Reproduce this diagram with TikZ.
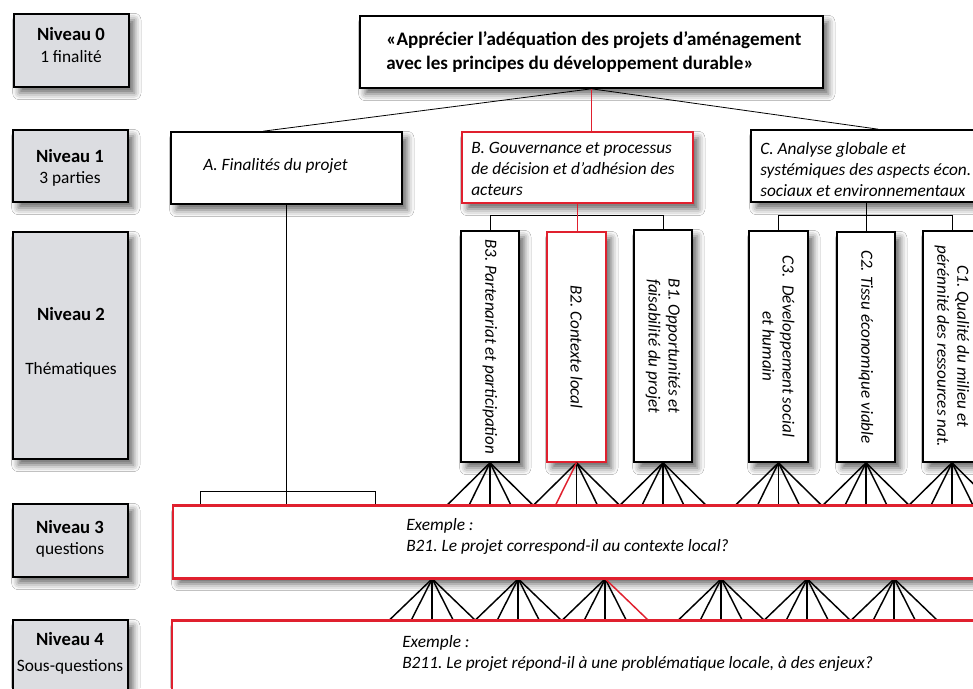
\documentclass[tikz,border=0pt]{standalone}
\usepackage{fontspec}
\setmainfont{Carlito}
\usetikzlibrary{fit,calc,shadows.blur}
\definecolor{redb}{HTML}{E0202E}
\definecolor{grayfill}{HTML}{DCDDE1}
\frenchspacing
\begin{document}
\begin{tikzpicture}[x=0.75pt,y=-0.75pt,
  shd/.style={blur shadow={shadow xshift=4pt,shadow yshift=-4.5pt,shadow blur radius=5pt,shadow opacity=60}},
  lvl/.style={draw=black,line width=1.2pt,fill=grayfill,inner sep=0pt,shd},
  wbox/.style={draw=black,line width=1.2pt,fill=white,inner sep=0pt,shd},
  rbox/.style={draw=redb,line width=1.2pt,fill=white,inner sep=0pt,shd},
  txt/.style={font=\fontsize{13}{15.75}\selectfont\itshape,align=left,inner sep=0pt},
  vtxt/.style={font=\fontsize{12.8}{15}\selectfont\itshape,align=center,rotate=-90,inner sep=0pt},
  lab/.style={font=\fontsize{13}{16.5}\selectfont,align=center,inner sep=0pt},
  labb/.style={font=\fontsize{14}{16.5}\selectfont\bfseries,align=center,inner sep=0pt},
  ttl/.style={font=\fontsize{14.3}{18}\selectfont\bfseries,align=left,inner sep=0pt},
  conn/.style={line width=0.6pt},
  fan/.style={line width=1.1pt},
]
\clip (0,0) rectangle (973,688);
\fill[white] (0,0) rectangle (973,688);

% level labels
\node[lvl,fit={(14,14)(129,87)}] (N0) {};
\node[labb] (N0a) at (71,34) {Niveau 0};
\node[lab] (N0b) at (71,57) {1 finalité};
\node[lvl,fit={(13,130)(128,202)}] (N1) {};
\node[labb] (N1a) at (70,156) {Niveau 1};
\node[lab] (N1b) at (70,179) {3 parties};
\node[lvl,fit={(13,232)(128,459)}] (N2) {};
\node[labb] (N2a) at (71,314) {Niveau 2};
\node[lab] (N2b) at (71,370) {Thématiques};
\node[lvl,fit={(13,504)(128,577)}] (N3) {};
\node[labb] (N3a) at (70,527) {Niveau 3};
\node[lab] (N3b) at (70,550) {questions};
\node[lvl,fit={(13,620)(128,720)}] (N4) {};
\node[labb] (N4a) at (70,639) {Niveau 4};
\node[lab] (N4b) at (70,667) {Sous-questions};

% level 0
\node[wbox,fit={(360,16)(823,88)}] (T) {};
\node[ttl,anchor=west] (Tt) at (386,52) {«Apprécier l’adéquation des projets d’aménagement\\avec les principes du développement durable»};

% level 1
\node[wbox,fit={(171,132)(402,204)}] (A) {};
\node[txt,anchor=west] (At) at (203,166) {A. Finalités du projet};
\node[rbox,fit={(462,132)(693,203)}] (B) {};
\node[txt,anchor=west] (Bt) at (471,169) {B. Gouvernance et processus\\de décision et d’adhésion des\\acteurs};
\node[wbox,fit={(751,130)(981,202)}] (C) {};
\node[txt,anchor=west] (Ct) at (760,170) {C. Analyse globale et\\systémiques des aspects écon.\\sociaux et environnementaux};

% level 2
\node[wbox,fit={(461,231)(519,462)}] (B3) {};
\node[vtxt] (B3t) at (B3.center) {B3. Partenariat et participation};
\node[rbox,fit={(547,232)(606,462)}] (B2) {};
\node[vtxt] (B2t) at (B2.center) {B2. Contexte local};
\node[wbox,fit={(634,230)(692,462)}] (B1) {};
\node[vtxt] (B1t) at (B1.center) {B1. Opportunités et\\faisabilité du projet};
\node[wbox,fit={(749,231)(808,462)}] (C3) {};
\node[vtxt] (C3t) at (C3.center) {C3.\ \ Développement social\\et humain};
\node[wbox,fit={(837,232)(895,462)}] (C2) {};
\node[vtxt] (C2t) at (C2.center) {C2. Tissu économique viable};
\node[wbox,fit={(923,231)(981,462)}] (C1) {};
\node[vtxt] (C1t) at (C1.center) {C1. Qualité du milieu et\\pérénnité des ressources nat.};

% level 3 and 4
\node[rbox,fit={(173,506)(1000,578)}] (L3) {};
\node[txt,anchor=west] (L3t) at (406,536) {Exemple :\\B21. Le projet correspond-il au contexte local?};
\node[rbox,fit={(172,621)(1000,720)}] (L4) {};
\node[txt,anchor=west] (L4t) at (402,653) {Exemple :\\B211. Le projet répond-il à une problématique locale, à des enjeux?};

% connectors level 0 -> 1
\draw[conn] (T.south) -- ($(A.north west)+(93,0)$);
\draw[conn] (T.south) -- ($(C.north west)+(128,0)$);
\draw[conn,redb] (T.south) -- (T.south |- B.north);

% level 1 -> 2
\draw[conn] (B3.north) -- ++(0,-15) -| (B1.north);
\draw[conn,redb] (B.south) -- (B.south |- B2.north);
\draw[conn] (C3.north) -- ++(0,-15) -| (C1.north);
\draw[conn] (C.south) -- (C.south |- C2.north);

% A -> level 3
\draw[conn] (A.south) -- (A.south |- L3.north);
\draw[conn] ($(L3.north west)+(28,0)$) -- ++(0,-14) -| ($(L3.north west)+(203,0)$);

% fans level 2 -> 3
\foreach \b in {B3,B1,C3,C2,C1}{
  \foreach \d in {-43,-21,0,21,43}{
    \draw[fan] (\b.south) -- ($(\b.south |- L3.north)+(\d,0)$);
  }
}
\foreach \d in {-43,0,21,43}{
  \draw[fan] (B2.south) -- ($(B2.south |- L3.north)+(\d,0)$);
}
\draw[fan,redb] (B2.south) -- ($(B2.south |- L3.north)+(-21,0)$);

% fans level 3 -> 4
\foreach \x in {433,519,722,808,895}{
  \foreach \d in {-43,-21,0,21,43}{
    \draw[fan] ($(L3.south west)+(\x-173,0)$) -- ($(L4.north west)+(\x-172+\d,0)$);
  }
}
\foreach \d in {-43,-21,0,21}{
  \draw[fan] ($(L3.south west)+(433,0)$) -- ($(L4.north west)+(434+\d,0)$);
}
\draw[fan,redb] ($(L3.south west)+(433,0)$) -- ($(L4.north west)+(477,0)$);

% redraw red borders on top of fans
\draw[redb,line width=1.2pt] (L3.north west) -- (L3.north east);
\draw[redb,line width=1.2pt] (L4.north west) -- (L4.north east);
\draw[redb,line width=1.2pt] (L3.south west) -- (L3.south east);
\end{tikzpicture}
\end{document}
